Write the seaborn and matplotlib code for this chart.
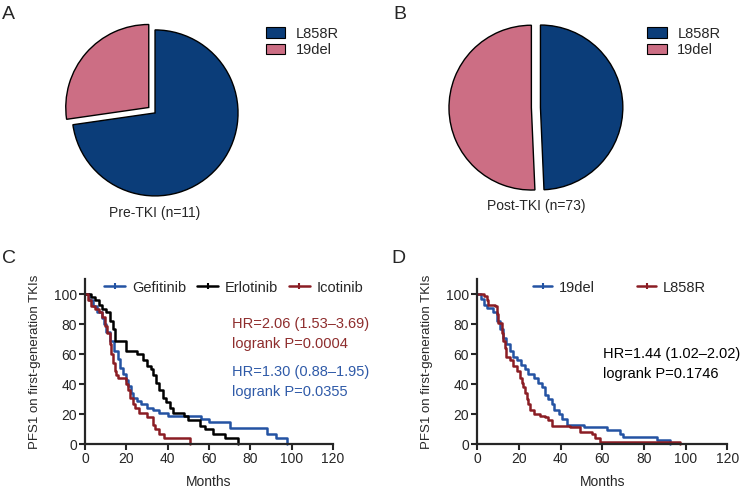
import numpy as np
import pandas as pd
import matplotlib
matplotlib.use('Agg')
import matplotlib.pyplot as plt
from matplotlib.lines import Line2D
from matplotlib.patches import Patch
import seaborn as sns

# ---- data -------------------------------------------------------------
mut_labels = ['L858R', '19del']
pre_counts = [8, 3]      # Pre-TKI (n=11)
post_counts = [36, 37]   # Post-TKI (n=73)

# Panel C: PFS1 by TKI (step curves)
gef_t = [0, 2, 4, 6, 8, 9, 10, 12, 14, 16, 17, 18.5, 20, 21, 22, 23, 25, 27, 30, 33, 36, 40,
         56, 60, 70, 88, 92.5, 97.5]
gef_s = [100, 96, 92, 88, 84, 80, 75, 69, 62, 57, 51, 47, 43, 39, 34, 31, 29, 27, 24, 23, 21, 19,
         17, 15, 10.6, 7, 4, 0]
erl_t = [0, 3, 5, 6.5, 8, 10, 12, 13.5, 14.5, 20, 25, 28, 30, 32, 33, 34.5, 36, 37.5, 39, 41,
         42.5, 48, 50, 55.5, 58, 62, 67.5, 74]
erl_s = [100, 98, 96, 93, 90, 88, 82, 77, 69, 62, 60, 56, 52, 50, 46, 41, 36, 31, 28, 24,
         21, 19, 16, 12, 10, 7, 4, 0]
ico_t = [0, 1.5, 3, 5, 6.5, 8, 9.5, 10.5, 12, 12.7, 13.5, 14.4, 15, 16, 20, 21, 21.6, 23, 24, 26,
         30, 33, 34, 36, 38, 50.6]
ico_s = [100, 96, 92, 90, 88, 85, 79, 74, 67, 60, 54, 49, 46, 44, 40, 36, 31, 27, 24, 21,
         18, 13, 10, 7, 4, 0]

# Panel D: PFS1 by mutation
del_t = [0, 2, 3, 4.5, 7.7, 9.3, 11, 12.5, 14, 15.7, 17, 19, 21, 23, 24.5, 27, 29, 31, 32.5, 34,
         35.7, 37, 39, 40.5, 43, 51, 62, 68.6, 70, 86, 92.6]
del_s = [100, 97, 93, 91, 88, 82, 77, 71, 67, 62, 58, 56, 53, 50, 47, 44, 41, 38, 33, 30,
         27, 23, 20, 17, 13, 11.5, 9.3, 7, 4.9, 2.7, 0]
l858_t = [0, 3, 4.5, 5.3, 8.5, 9.3, 10, 11.7, 12.5, 13.3, 14, 15.7, 17.3, 19, 20.5, 21.3, 22, 23,
          23.7, 24.5, 25.3, 27, 30, 32.5, 34, 35.7, 44.6, 49.4, 55, 56.6, 59, 97.4]
l858_s = [100, 99, 96, 93, 92, 87, 81, 74, 69, 64, 58, 56, 52, 49, 44, 41, 38, 34,
          30, 27, 23, 20, 19, 18, 16, 12, 11.5, 8.2, 7, 3.8, 1.5, 0]

x_ticks = [0, 20, 40, 60, 80, 100, 120]
y_ticks = [0, 20, 40, 60, 80, 100]

# ---- style ------------------------------------------------------------
sns.set_style('ticks')
plt.rcParams['font.family'] = ['Liberation Sans', 'DejaVu Sans']
plt.rcParams['font.size'] = 10

BLUE_PIE = '#0b3d79'
PINK_PIE = '#cc6e84'
BLUE = '#2453a3'
RED = '#8b1d24'
TXT_RED = '#8e2d2d'
TXT_BLUE = '#2f5aa8'

fig = plt.figure(figsize=(7.4, 4.88), dpi=100)


def draw_pie(rect, counts, explode, title, legend_xy):
    ax = fig.add_axes(rect)
    # draw 19del first from 12 o'clock counter-clockwise
    ax.pie([counts[1], counts[0]], colors=[PINK_PIE, BLUE_PIE], startangle=90,
           counterclock=True, explode=explode,
           wedgeprops=dict(edgecolor='black', linewidth=1.0))
    ax.set_xlim(-1.25, 1.25)
    ax.set_ylim(-1.25, 1.25)
    ax.text(0, -1.2, title, ha='center', va='center', fontsize=10)
    handles = [Patch(facecolor=BLUE_PIE, edgecolor='black', lw=0.8),
               Patch(facecolor=PINK_PIE, edgecolor='black', lw=0.8)]
    fig.legend(handles, mut_labels, loc='upper left', bbox_to_anchor=legend_xy,
               frameon=False, borderpad=0, handlelength=1.35, handleheight=0.75,
               handletextpad=0.7, labelspacing=0.15, fontsize=10.5)
    return ax


draw_pie([0.0693, 0.556, 0.2804, 0.4252], pre_counts, [0.1, 0.0],
         'Pre-TKI (n=11)', (0.349, 0.96))
draw_pie([0.585, 0.5686, 0.2784, 0.4221], post_counts, [0.055, 0.055],
         'Post-TKI (n=73)', (0.865, 0.96))


def style_km(ax):
    ax.set_xlim(0, 120)
    ax.set_ylim(0, 110)
    ax.set_xticks(x_ticks)
    ax.set_yticks(y_ticks)
    ax.tick_params(direction='out', length=4, width=1.5, labelsize=10, pad=2)
    for side in ['left', 'bottom']:
        ax.spines[side].set_linewidth(1.6)
    sns.despine(ax=ax)
    ax.set_xlabel('Months', fontsize=10, labelpad=6)
    ax.set_ylabel('PFS1 on first-generation TKIs', fontsize=9.5, labelpad=9)


def km_line(ax, t, s, color):
    df = pd.DataFrame({'t': t, 's': s})
    sns.lineplot(data=df, x='t', y='s', ax=ax, color=color, lw=1.8,
                 drawstyle='steps-post', estimator=None, sort=False, clip_on=False)


def km_handle(color):
    return Line2D([], [], color=color, lw=1.8, marker='|', markersize=4,
                  markeredgewidth=1.5)


# Panel C
axc = fig.add_axes([0.115, 0.090, 0.335, 0.338])
km_line(axc, gef_t, gef_s, BLUE)
km_line(axc, erl_t, erl_s, 'black')
km_line(axc, ico_t, ico_s, RED)
style_km(axc)
axc.legend([km_handle(BLUE), km_handle('black'), km_handle(RED)],
           ['Gefitinib', 'Erlotinib', 'Icotinib'], ncol=3, loc='upper left',
           bbox_to_anchor=(0.131, 0.44), bbox_transform=fig.transFigure,
           frameon=False, borderpad=0, handlelength=1.45, handletextpad=0.45,
           columnspacing=0.75, fontsize=10.5)
axc.text(71, 80, 'HR=2.06 (1.53–3.69)', color=TXT_RED, va='center', fontsize=10.5)
axc.text(71, 66.7, 'logrank P=0.0004', color=TXT_RED, va='center', fontsize=10.5)
axc.text(71, 48, 'HR=1.30 (0.88–1.95)', color=TXT_BLUE, va='center', fontsize=10.5)
axc.text(71, 34.7, 'logrank P=0.0355', color=TXT_BLUE, va='center', fontsize=10.5)

# Panel D
axd = fig.add_axes([0.645, 0.090, 0.338, 0.338])
km_line(axd, del_t, del_s, BLUE)
km_line(axd, l858_t, l858_s, RED)
style_km(axd)
axd.legend([km_handle(BLUE), km_handle(RED)], ['19del', 'L858R'], ncol=2,
           loc='upper left', bbox_to_anchor=(0.711, 0.44),
           bbox_transform=fig.transFigure, frameon=False, borderpad=0,
           handlelength=1.3, handletextpad=0.45, columnspacing=2.9, fontsize=10.5)
axd.text(60.5, 60, 'HR=1.44 (1.02–2.02)', color='black', va='center', fontsize=10.5)
axd.text(60.5, 46.7, 'logrank P=0.1746', color='black', va='center', fontsize=10.5)

# panel letters
for x, y, letter in [(0.003, 0.988, 'A'), (0.531, 0.988, 'B'),
                     (0.003, 0.488, 'C'), (0.529, 0.488, 'D')]:
    fig.text(x, y, letter, fontsize=14, va='top', ha='left')

fig.savefig('out.png', dpi=100)
